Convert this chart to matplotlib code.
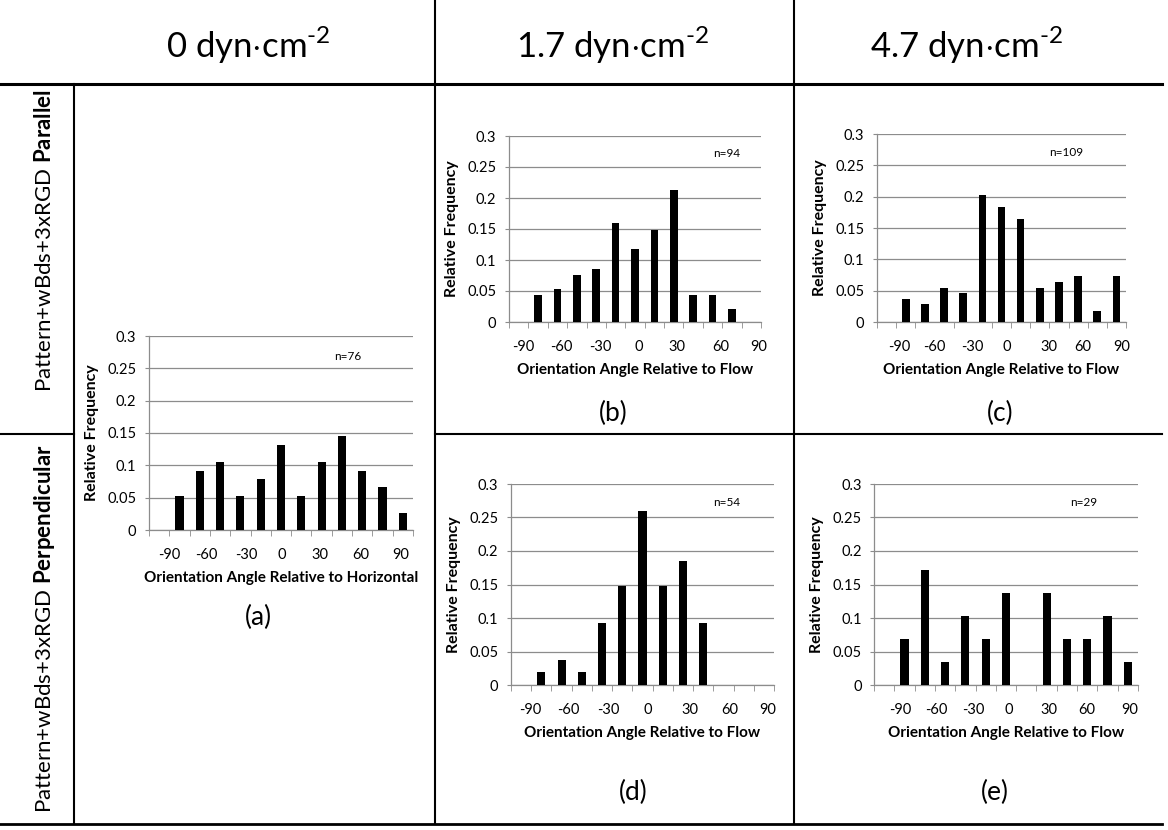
import matplotlib
matplotlib.use("Agg")
import matplotlib.pyplot as plt
from matplotlib.lines import Line2D
from matplotlib.ticker import FixedLocator, NullFormatter

plt.rcParams["font.family"] = ["Lato", "DejaVu Sans"]
plt.rcParams["mathtext.fontset"] = "custom"
plt.rcParams["mathtext.rm"] = "Lato"
plt.rcParams["mathtext.bf"] = "Lato:bold"

# data: relative frequency per 15 deg bin (13 bins, first one empty)
angle_labels = ["-90", "-60", "-30", "0", "30", "60", "90"]
freq_a = [0, 0.053, 0.092, 0.105, 0.053, 0.079, 0.132, 0.053, 0.105, 0.145, 0.092, 0.066, 0.026]
freq_b = [0, 0.043, 0.053, 0.075, 0.085, 0.160, 0.117, 0.149, 0.213, 0.043, 0.043, 0.021, 0]
freq_c = [0, 0.037, 0.028, 0.055, 0.046, 0.202, 0.183, 0.165, 0.055, 0.064, 0.073, 0.018, 0.073]
freq_d = [0, 0.019, 0.037, 0.019, 0.093, 0.148, 0.259, 0.148, 0.185, 0.093, 0, 0, 0]
freq_e = [0, 0.069, 0.172, 0.034, 0.103, 0.069, 0.138, 0, 0.138, 0.069, 0.069, 0.103, 0.034]
n_counts = {"a": 76, "b": 94, "c": 109, "d": 54, "e": 29}
yticks = [0, 0.05, 0.1, 0.15, 0.2, 0.25, 0.3]
ytick_labels = ["0", "0.05", "0.1", "0.15", "0.2", "0.25", "0.3"]
headers = [r"0 dyn$\cdot$cm$^{\text{-2}}$", r"1.7 dyn$\cdot$cm$^{\text{-2}}$", r"4.7 dyn$\cdot$cm$^{\text{-2}}$"]

W, H = 1168, 830
fig = plt.figure(figsize=(W / 100, H / 100), dpi=100)
fig.patch.set_facecolor("white")


def px_rect(x0, y0, x1, y1):
    return [x0 / W, 1 - y1 / H, (x1 - x0) / W, (y1 - y0) / H]


def hist_panel(rect, freq, n, xlabel, label_pos, n_pos):
    ax = fig.add_axes(px_rect(*rect))
    hpx = rect[3] - rect[1]
    x = list(range(len(freq)))
    ax.bar(x, freq, width=0.4, color="black", zorder=3)
    ax.set_xlim(-0.5, len(freq) - 0.5)
    ax.set_ylim(0, 0.3)
    ax.set_yticks(yticks)
    ax.set_yticklabels(ytick_labels, fontsize=10.5)
    ax.grid(axis="y", color="#8c8c8c", lw=0.9, zorder=0)
    for s in ["top", "right"]:
        ax.spines[s].set_visible(False)
    for s in ["left", "bottom"]:
        ax.spines[s].set_color("#8c8c8c")
        ax.spines[s].set_linewidth(0.9)
    ax.tick_params(axis="y", length=3, color="#8c8c8c", pad=6)
    ax.xaxis.set_major_locator(FixedLocator(label_pos))
    ax.set_xticklabels(angle_labels, fontsize=10.5)
    ax.xaxis.set_minor_locator(FixedLocator([i - 0.5 for i in range(len(freq) + 1)]))
    ax.xaxis.set_minor_formatter(NullFormatter())
    ax.tick_params(axis="x", which="major", length=0, pad=13)
    ax.tick_params(axis="x", which="minor", length=4, color="#8c8c8c")
    ax.set_xlabel(xlabel, fontsize=11, fontweight="bold")
    ax.xaxis.set_label_coords(0.5, -48 / hpx)
    ax.xaxis.label.set_va("center")
    ax.set_ylabel("Relative Frequency", fontsize=11.5, fontweight="bold")
    ax.yaxis.set_label_coords(-57 / (rect[2] - rect[0]), 0.5)
    ax.yaxis.label.set_va("center")
    ax.text(n_pos[0], n_pos[1], "n=%d" % n, fontsize=8.5, ha="center", va="center")
    return ax


flow = "Orientation Angle Relative to Flow"
hist_panel((149, 336, 413, 530), freq_a, n_counts["a"], "Orientation Angle Relative to Horizontal",
           [0.52, 2.32, 4.29, 6.06, 7.93, 9.94, 11.88], (9.3, 0.268))
hist_panel((509, 136, 761, 322), freq_b, n_counts["b"], flow,
           [0.22, 2.2, 4.19, 6.2, 8.16, 10.4, 12.38], (10.74, 0.272))
hist_panel((877, 134, 1126, 322), freq_c, n_counts["c"], flow,
           [0.68, 2.5, 4.5, 6.28, 8.46, 10.25, 12.28], (9.4, 0.27))
hist_panel((511, 484, 774, 685), freq_d, n_counts["d"], flow,
           [0.47, 2.33, 4.3, 6.28, 8.33, 10.3, 12.2], (10.14, 0.272))
hist_panel((874, 484, 1138, 685), freq_e, n_counts["e"], flow,
           [0.78, 2.59, 4.4, 6.13, 8.1, 10.0, 12.1], (9.83, 0.272))

# table lines
def line(x0, y0, x1, y1, lw=1.5):
    fig.add_artist(Line2D([x0 / W, x1 / W], [1 - y0 / H, 1 - y1 / H],
                          transform=fig.transFigure, color="black", lw=lw))


line(0, 84, 1162, 84, lw=2.2)
line(74, 84, 74, 824)
line(435, 0, 435, 824)
line(794, 0, 794, 824)
line(0, 434, 74, 434)
line(435, 434, 1162, 434)
line(0, 824, 1162, 824, lw=2)

# headers
for cx, txt in zip([248, 613, 967], headers):
    fig.text(cx / W, 1 - 45 / H, txt, fontsize=25, ha="center", va="center")

fig.text(45 / W, 1 - 241 / H, r"Pattern+wBds+3xRGD $\bf{Parallel}$", rotation=90,
         fontsize=16, ha="center", va="center")
fig.text(45 / W, 1 - 629 / H, r"Pattern+wBds+3xRGD $\bf{Perpendicular}$", rotation=90,
         fontsize=16, ha="center", va="center")

# panel letters
for lab, cx, cy in [("(a)", 258, 617), ("(b)", 613, 413), ("(c)", 1000, 413),
                    ("(d)", 633, 792), ("(e)", 995, 792)]:
    fig.text(cx / W, 1 - cy / H, lab, fontsize=19, ha="center", va="center")

fig.savefig("out.png", dpi=100)
